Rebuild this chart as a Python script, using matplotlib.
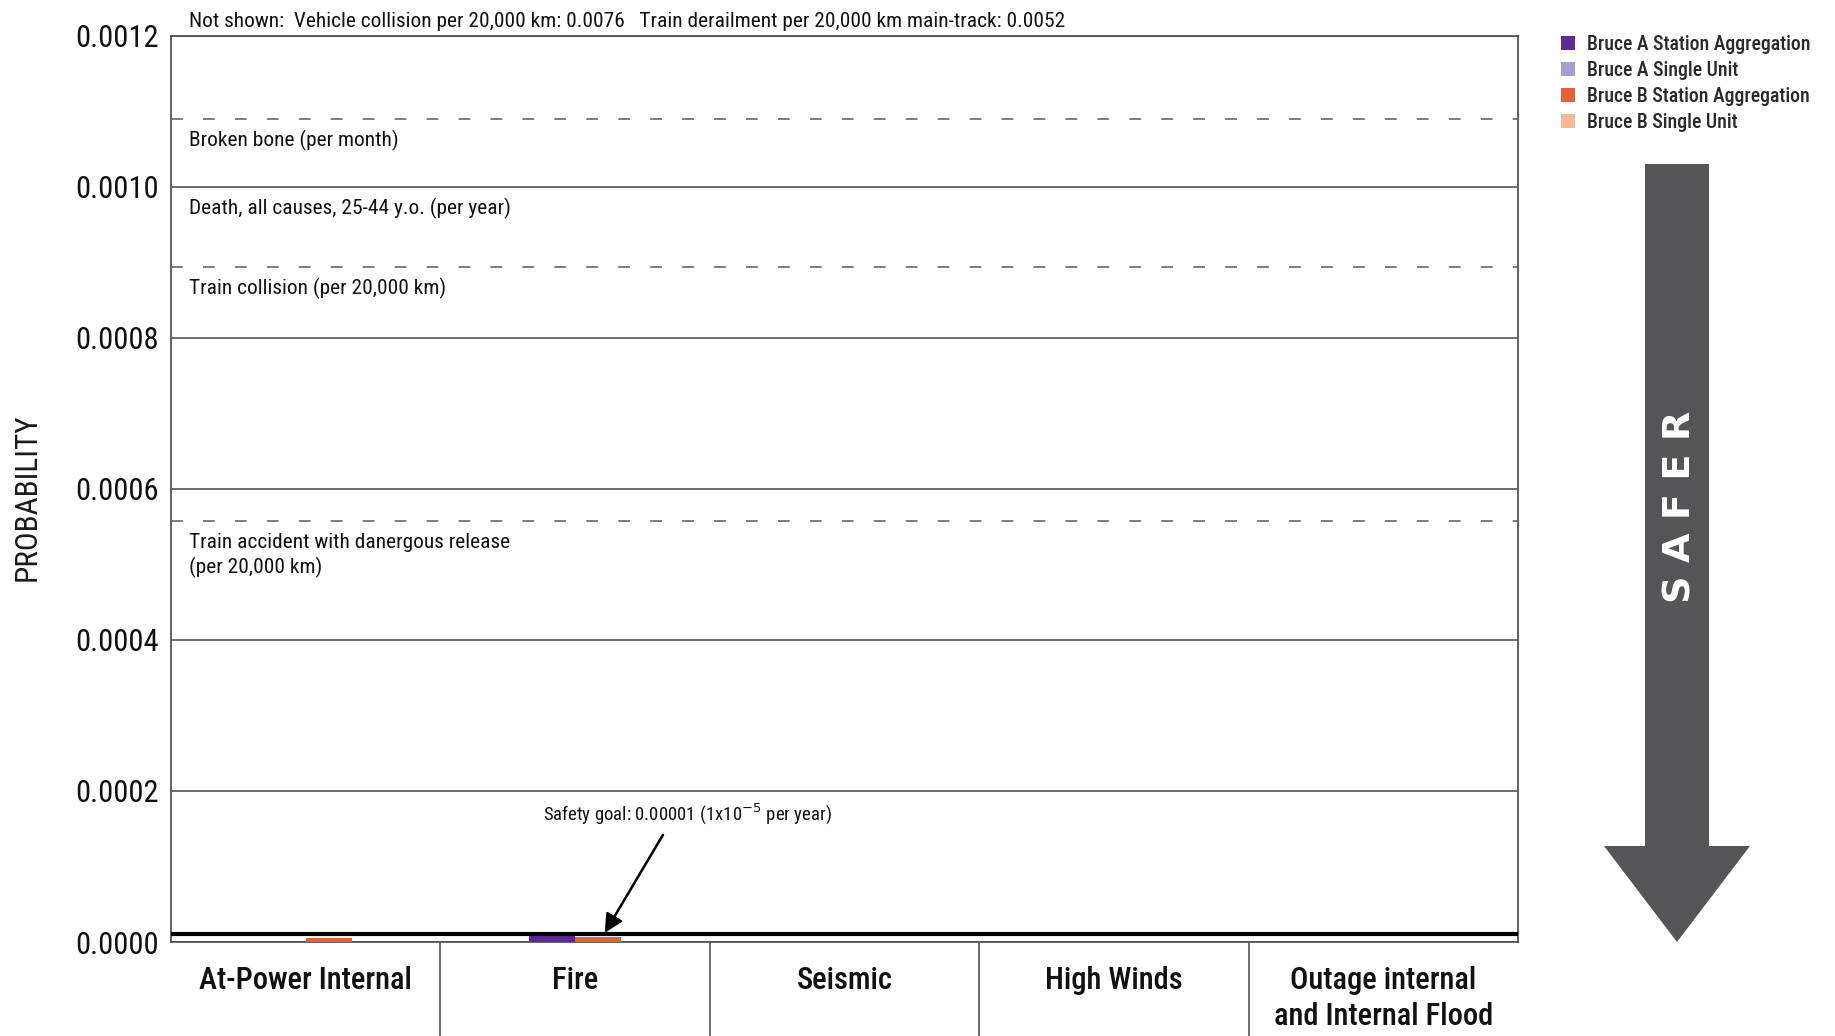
import numpy as np
import matplotlib
matplotlib.use("Agg")
import matplotlib.pyplot as plt
from matplotlib import font_manager as fm
from matplotlib.patches import Polygon, Patch

plt.rcParams['lines.scale_dashes'] = False

# ---------------- data ----------------
categories = ["At-Power Internal", "Fire", "Seismic", "High Winds",
              "Outage internal\nand Internal Flood"]
series_names = ["Bruce A Station Aggregation", "Bruce A Single Unit",
                "Bruce B Station Aggregation", "Bruce B Single Unit"]
bruce_a_station = [0.0, 0.0000085, 0.0, 0.0, 0.0]
bruce_a_single = [0.0, 0.0, 0.0, 0.0, 0.0]
bruce_b_station = [0.000005, 0.0000063, 0.0, 0.0, 0.0]
bruce_b_single = [0.0, 0.0, 0.0, 0.0, 0.0]
series_colors = ["#5f2a96", "#ab9dcf", "#e5603a", "#f8b89c"]

ref_values = [0.00109, 0.0010, 0.000894, 0.000557]
ref_labels = ["Broken bone (per month)",
              "Death, all causes, 25-44 y.o. (per year)",
              "Train collision (per 20,000 km)",
              "Train accident with danergous release\n(per 20,000 km)"]
safety_goal = 0.00001
yticks = [0.0, 0.0002, 0.0004, 0.0006, 0.0008, 0.0010, 0.0012]
not_shown = ("Not shown:  Vehicle collision per 20,000 km: 0.0076   "
             "Train derailment per 20,000 km main-track: 0.0052")


# ---------------- font selection (prefer a condensed sans) ----------------
def _w(f):
    try:
        return int(f.weight)
    except Exception:
        return {'normal': 400, 'regular': 400, 'book': 400, 'medium': 500,
                'semibold': 600, 'demibold': 600, 'bold': 700}.get(str(f.weight).lower(), 400)


def _condensed(f):
    st = str(f.stretch).lower()
    nm = f.name.lower()
    fn = f.fname.lower()
    return ('condensed' in st or 'narrow' in nm or 'condensed' in nm
            or 'condensed' in fn or 'narrow' in fn)


prefs = ['liberation sans narrow', 'roboto condensed', 'open sans condensed',
         'noto sans', 'open sans', 'dejavu sans', 'roboto', 'lato', 'inter']


def pick(weight):
    best = None
    for f in fm.fontManager.ttflist:
        if f.style != 'normal' or not _condensed(f):
            continue
        nm = f.name.lower()
        if not any(nm.startswith(p) for p in prefs):
            continue
        if 'extra' in str(f.stretch).lower() or 'ultra' in str(f.stretch).lower():
            continue
        if any(k in nm for k in ['mono', 'display', 'serif', 'ui']):
            continue
        rank = min(i for i, p in enumerate(prefs) if nm.startswith(p))
        key = (abs(_w(f) - weight), rank, 'semi' in str(f.stretch).lower())
        if best is None or key < best[0]:
            best = (key, f.fname)
    return best[1] if best else None


reg_file = pick(400)
med_file = pick(500)


def FP(fname, size):
    if fname:
        return fm.FontProperties(fname=fname, size=size)
    return fm.FontProperties(family='DejaVu Sans', size=size)


# ---------------- figure ----------------
W, H = 1835, 1036
fig = plt.figure(figsize=(W / 100, H / 100), dpi=100)
ax = fig.add_axes([171 / W, 1 - 942 / H, (1518 - 171) / W, (942 - 36) / H])

x = np.arange(len(categories))
bw = 0.171
series = [bruce_a_single, bruce_a_station, bruce_b_station, bruce_b_single]
order_idx = [1, 0, 2, 3]
offsets = [-1.5, -0.5, 0.5, 1.5]
for s, vals, off in zip(order_idx, series, offsets):
    ax.bar(x + off * bw, vals, width=bw, color=series_colors[s], zorder=3)

ax.set_xlim(-0.5, len(categories) - 0.5)
ax.set_ylim(0, 0.0012)
ax.set_yticks(yticks)
ax.set_yticklabels([f"{v:.4f}" for v in yticks], fontproperties=FP(reg_file, 22))
ax.tick_params(axis='y', length=0, pad=9, colors='#111111')
ax.yaxis.grid(True, color='#555555', lw=1.2, zorder=1)
ax.set_axisbelow(True)

ax.set_xticks(x)
ax.set_xticklabels(categories, fontproperties=FP(med_file, 22), linespacing=1.32)
ax.tick_params(axis='x', which='major', length=0, pad=17, colors='#111111')
ax.set_xticks(x[:-1] + 0.5, minor=True)
ax.tick_params(axis='x', which='minor', length=68, width=1.1, color='#444444',
               direction='out')

for sp in ax.spines.values():
    sp.set_color('#555555')
    sp.set_linewidth(1.3)

# reference lines
for v, lab in zip(ref_values, ref_labels):
    on_grid = any(abs(v - t) < 1e-9 for t in yticks)
    if not on_grid:
        ax.axhline(v, color='#666666', lw=1.2, dashes=(8.5, 14.5), zorder=2)
    ax.annotate(lab, xy=(0.0134, v), xycoords=('axes fraction', 'data'),
                xytext=(0, -8), textcoords='offset points', ha='left', va='top',
                fontproperties=FP(reg_file, 15.4), color='#111111', linespacing=1.32)

# safety goal line
ax.axhline(safety_goal, color='black', lw=3, zorder=4)
ax.annotate(r"Safety goal: 0.00001 (1x10$^{-5}$ per year)",
            xy=(1.11, safety_goal + 0.000002), xytext=(1.418, 0.0001686),
            ha='center', va='center', fontproperties=FP(reg_file, 13.5),
            color='#111111',
            arrowprops=dict(arrowstyle='-|>', color='black', lw=1.8,
                            mutation_scale=28, shrinkA=4, shrinkB=0,
                            relpos=(0.43, 0.0)), zorder=5)

ax.text(0.0134, 1.0 + 14 / 906, not_shown, transform=ax.transAxes,
        ha='left', va='center', fontproperties=FP(reg_file, 15.4), color='#111111')

fig.text(27 / W, 1 - 497 / H, "PROBABILITY", rotation=90, ha='center',
         va='center', fontproperties=FP(reg_file, 22.5), color='#1a1a1a')

# legend
handles = [Patch(facecolor=c, edgecolor='none') for c in series_colors]
fig.legend(handles, series_names, loc='upper left',
           bbox_to_anchor=(1561 / W, 1 - 35 / H), frameon=False,
           handlelength=0.72, handleheight=0.72, handletextpad=0.6,
           labelspacing=0.36, borderaxespad=0, borderpad=0,
           prop=FP(med_file, 14.2), labelcolor='#2a2a2a')

# SAFER arrow
def fpt(px, py):
    return (px / W, 1 - py / H)

arrow_pts = [fpt(1645, 164), fpt(1709, 164), fpt(1709, 846), fpt(1750, 846),
             fpt(1677, 942), fpt(1604, 846), fpt(1645, 846)]
fig.add_artist(Polygon(arrow_pts, closed=True, facecolor='#555558',
                       edgecolor='none', transform=fig.transFigure))
fig.text(1680 / W, 1 - 507 / H, "S A F E R", rotation=90, ha='center',
         va='center', fontsize=27.5, fontweight='bold', color='white',
         family=['DejaVu Sans'])

fig.savefig("out.png", dpi=100, facecolor='white')
